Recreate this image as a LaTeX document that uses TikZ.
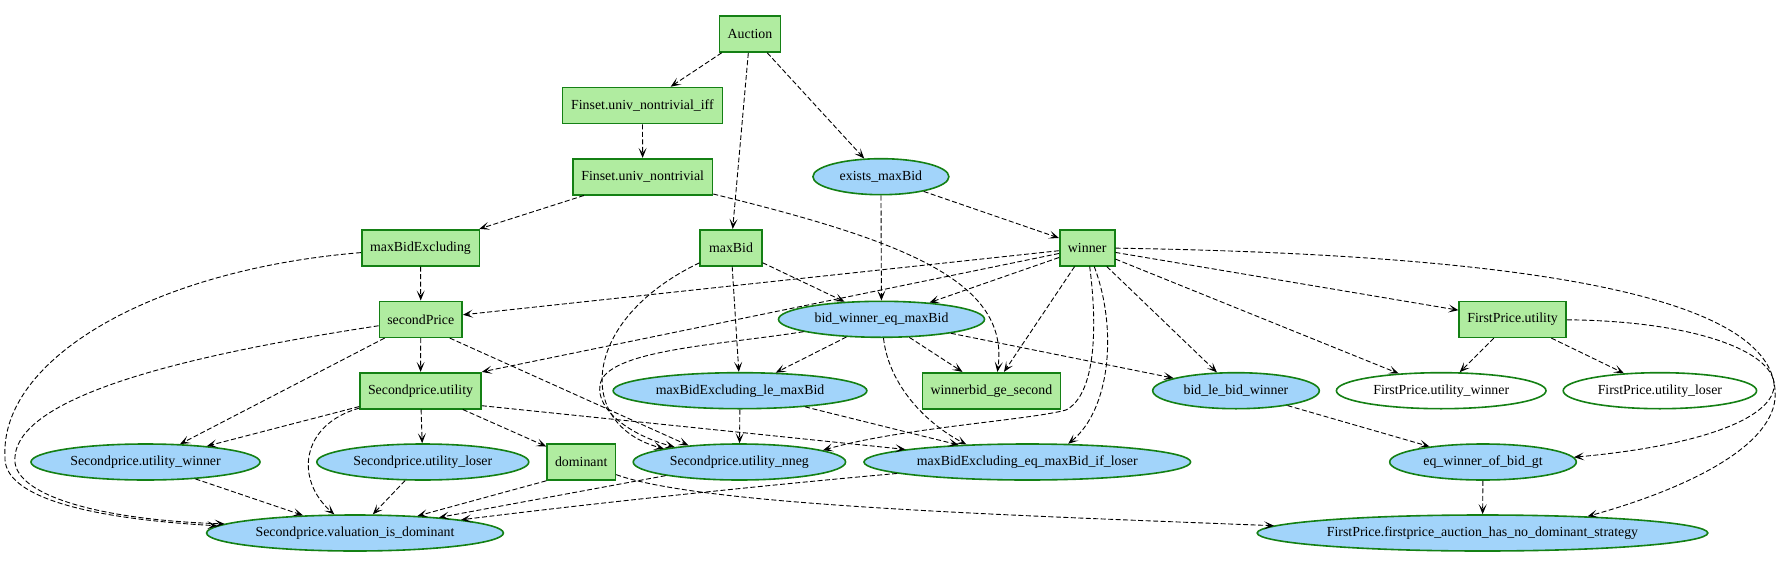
\documentclass[tikz,border=0pt]{standalone}
\usepackage{fontspec}
\setmainfont{Liberation Serif}
\usetikzlibrary{arrows.meta,shapes.geometric}
\definecolor{bordergreen}{RGB}{20,128,20}
\definecolor{boxgreen}{RGB}{176,236,160}
\definecolor{ellblue}{RGB}{162,212,250}
\newcommand{\zw}[1]{\makebox[0pt]{#1}}
\begin{document}
\begin{tikzpicture}[x=1pt,y=-1pt,
  nd/.style={draw=bordergreen,line width=1.6pt,minimum height=36pt,inner sep=0pt,font=\fontsize{13.85}{16}\selectfont},
  gbox/.style={nd,rectangle,fill=boxgreen},
  bell/.style={nd,ellipse,fill=ellblue},
  well/.style={nd,ellipse,fill=white},
  dep/.style={line width=0.9pt,dash pattern=on 5pt off 2.5pt,-{Stealth[length=10pt,width=8pt,inset=5pt]}}
]
\useasboundingbox (0,0) rectangle (1781,570);
% nodes
\node[gbox,minimum width=61pt] (A) at (750,34) {Auction};
\node[gbox,minimum width=160pt] (FUNI) at (642.4,105.5) {Finset.univ\_nontrivial\_iff};
\node[gbox,minimum width=139.5pt] (FUN) at (642.7,176.7) {Finset.univ\_nontrivial};
\node[bell,minimum width=136pt] (EX) at (880.9,176.7) {\zw{exists\_maxBid}};
\node[gbox,minimum width=117.6pt] (MBX) at (420.5,247.7) {maxBidExcluding};
\node[gbox,minimum width=61.5pt] (MB) at (731,247.7) {maxBid};
\node[gbox,minimum width=55pt] (W) at (1087.2,247.7) {winner};
\node[gbox,minimum width=82.7pt] (SP) at (420.8,319.3) {secondPrice};
\node[bell,minimum width=206pt] (BWE) at (881.5,319.3) {\zw{bid\_winner\_eq\_maxBid}};
\node[gbox,minimum width=106.8pt] (FPU) at (1512.6,319.3) {FirstPrice.utility};
\node[gbox,minimum width=121pt] (SU) at (420.5,390.7) {Secondprice.utility};
\node[bell,minimum width=253.8pt] (MBLE) at (740,390.7) {\zw{maxBidExcluding\_le\_maxBid}};
\node[gbox,minimum width=137.8pt] (WGS) at (991.4,390.7) {winnerbid\_ge\_second};
\node[bell,minimum width=166.6pt] (BLB) at (1236,390.7) {\zw{bid\_le\_bid\_winner}};
\node[well,minimum width=209.6pt] (FPUW) at (1441.2,390.7) {\zw{FirstPrice.utility\_winner}};
\node[well,minimum width=193.4pt] (FPUL) at (1659.9,390.7) {\zw{FirstPrice.utility\_loser}};
\node[bell,minimum width=229pt] (SUW) at (145.5,462) {\zw{Secondprice.utility\_winner}};
\node[bell,minimum width=212pt] (SUL) at (422.8,462) {\zw{Secondprice.utility\_loser}};
\node[gbox,minimum width=68.3pt] (DOM) at (581.2,462) {dominant};
\node[bell,minimum width=212.4pt] (NN) at (739.4,462) {\zw{Secondprice.utility\_nneg}};
\node[bell,minimum width=326.6pt] (MBEQ) at (1027.3,462) {\zw{maxBidExcluding\_eq\_maxBid\_if\_loser}};
\node[bell,minimum width=186.6pt] (EQW) at (1483,462) {\zw{eq\_winner\_of\_bid\_gt}};
\node[bell,minimum width=296.8pt] (VAL) at (355,533) {\zw{Secondprice.valuation\_is\_dominant}};
\node[bell,minimum width=450.6pt] (FP) at (1482.5,533) {\zw{FirstPrice.firstprice\_auction\_has\_no\_dominant\_strategy}};
% edges
\draw[dep] (A) -- (FUNI);
\draw[dep] (A) -- (MB);
\draw[dep] (A) -- (EX);
\draw[dep] (FUNI) -- (FUN);
\draw[dep] (FUN) -- (MBX);
\draw[dep] (FUN) .. controls (900,240) and (1010,280) .. ([xshift=6pt]WGS.north);
\draw[dep] (EX) -- (BWE);
\draw[dep] (EX) -- (W);
\draw[dep] (MBX) -- (SP);
\draw[dep] (MBX) .. controls (150,270) and (0,360) .. (5,456.7) .. controls (3,495) and (80,518) .. (VAL.177);
\draw[dep] (SP) .. controls (220,350) and (20,390) .. (15,456.7) .. controls (10,495) and (100,520) .. (VAL.176);
\draw[dep] (MB) -- (BWE);
\draw[dep] (MB) -- (MBLE);
\draw[dep] (MB) .. controls (580,320) and (575,425) .. (NN.170);
\draw[dep] (BWE) .. controls (720,345) and (605,350) .. (600,385) .. controls (596,410) and (630,435) .. (NN.167);
\draw[dep] ([xshift=29pt]SP.south) -- (NN.162);
\draw[dep] (SP) -- (SU);
\draw[dep] (SP) -- (SUW);
\draw[dep] (SU) -- (SUW);
\draw[dep] (SU) -- (SUL);
\draw[dep] (SU) -- (DOM);
\draw[dep] (SU) .. controls (300,425) and (295,480) .. (VAL.138);
\draw[dep] ([yshift=-15pt]SU.east) -- (MBEQ);
\draw[dep] (SUW) -- (VAL);
\draw[dep] (SUL) -- (VAL);
\draw[dep] (DOM.south west) -- (VAL);
\draw[dep] (NN) -- (VAL);
\draw[dep] (MBEQ) .. controls (800,482) and (620,500) .. (VAL);
\draw[dep] (DOM) .. controls (700,505) and (1000,515) .. (FP.178);
\draw[dep] (MBLE) -- (NN);
\draw[dep] (MBLE) -- (MBEQ);
\draw[dep] (BWE) .. controls (888,380) and (920,420) .. (MBEQ.164);
\draw[dep] (BWE) -- (MBLE);
\draw[dep] (BWE) -- (WGS);
\draw[dep] (BWE) -- (BLB);
\draw[dep] (W) -- (BWE);
\draw[dep] (W) -- (SP);
\draw[dep] (W) -- (SU.north east);
\draw[dep] (W) -- (WGS);
\draw[dep] (W) .. controls (1098,330) and (1095,395) .. (1066,410) .. controls (1030,420) and (900,428) .. (NN.8);
\draw[dep] (W) .. controls (1118,330) and (1110,410) .. (MBEQ.24);
\draw[dep] (W) -- (BLB);
\draw[dep] (W) -- (FPUW);
\draw[dep] (W) -- (FPU);
\draw[dep] (W) .. controls (1550,255) and (1770,300) .. (1775,390) .. controls (1780,440) and (1700,485) .. (FP.9);
\draw[dep] (FPU) .. controls (1810,322) and (1870,430) .. (EQW.3);
\draw[dep] (FPU) -- (FPUW);
\draw[dep] (FPU) -- (FPUL);
\draw[dep] (BLB) -- (EQW);
\draw[dep] (EQW) -- (FP);
\end{tikzpicture}
\end{document}
